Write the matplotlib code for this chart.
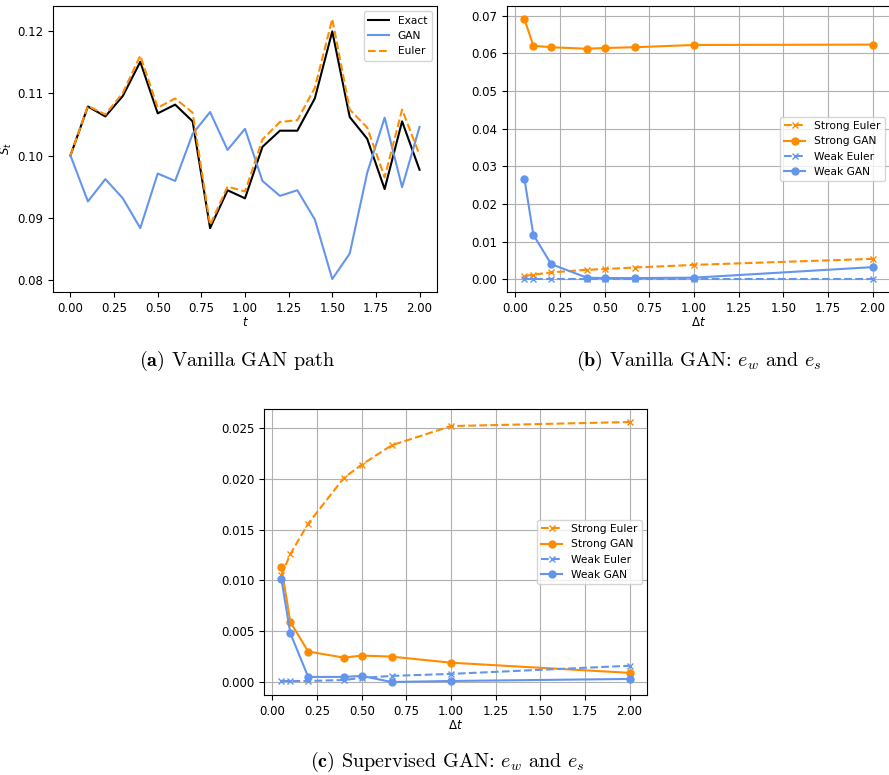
import numpy as np
import matplotlib.pyplot as plt

# Data
# (a) single sample path on t in [0, 2]
t = [0.0, 0.1, 0.2, 0.3, 0.4, 0.5, 0.6, 0.7, 0.8, 0.9, 1.0,
     1.1, 1.2, 1.3, 1.4, 1.5, 1.6, 1.7, 1.8, 1.9, 2.0]
path_exact = [0.1000, 0.1079, 0.1063, 0.1096, 0.1151, 0.1068, 0.1082, 0.1055, 0.0883, 0.0944, 0.0931,
              0.1014, 0.1040, 0.1040, 0.1092, 0.1200, 0.1062, 0.1027, 0.0946, 0.1055, 0.0977]
path_gan = [0.1000, 0.0926, 0.0962, 0.0931, 0.0883, 0.0971, 0.0959, 0.1035, 0.1070, 0.1009, 0.1043,
            0.0959, 0.0935, 0.0944, 0.0897, 0.0801, 0.0842, 0.0972, 0.1061, 0.0949, 0.1046]
path_euler = [0.1000, 0.1080, 0.1066, 0.1101, 0.1161, 0.1077, 0.1092, 0.1069, 0.0888, 0.0950, 0.0942,
              0.1026, 0.1054, 0.1057, 0.1109, 0.1220, 0.1074, 0.1045, 0.0965, 0.1074, 0.1001]

# step sizes used in the error plots
dt = [0.05, 0.1, 0.2, 0.4, 0.5, 2.0 / 3.0, 1.0, 2.0]

# (b) vanilla GAN errors
b_strong_euler = [0.0008, 0.0012, 0.0018, 0.0025, 0.0027, 0.0031, 0.0038, 0.0054]
b_strong_gan = [0.0691, 0.0620, 0.0616, 0.0612, 0.0614, 0.0616, 0.0622, 0.0623]
b_weak_euler = [0.00005, 0.00005, 0.00005, 0.00005, 0.00005, 0.00005, 0.00005, 0.00005]
b_weak_gan = [0.0267, 0.0118, 0.0040, 0.0004, 0.0003, 0.0003, 0.0004, 0.0032]

# (c) supervised GAN errors
c_strong_euler = [0.0105, 0.0126, 0.0156, 0.0201, 0.0214, 0.0233, 0.0252, 0.0256]
c_strong_gan = [0.0113, 0.0059, 0.0030, 0.0024, 0.0026, 0.0025, 0.0019, 0.0009]
c_weak_euler = [0.0001, 0.0001, 0.0001, 0.0002, 0.0004, 0.0006, 0.0008, 0.0016]
c_weak_gan = [0.0101, 0.0048, 0.0005, 0.0005, 0.0006, 0.0000, 0.0001, 0.0003]

orange = 'darkorange'
blue = 'cornflowerblue'
tick_fs = 8.5
leg_fs = 7.7

fig = plt.figure(figsize=(8.89, 7.75), dpi=100)

# (a) Vanilla GAN path
ax1 = fig.add_axes([53 / 889, 1 - 292 / 775, 384 / 889, 286 / 775])
ax1.plot(t, path_exact, color='black', label='Exact')
ax1.plot(t, path_gan, color=blue, label='GAN')
ax1.plot(t, path_euler, color=orange, linestyle='--', label='Euler')
ax1.set_xlabel('$t$', fontsize=tick_fs, labelpad=1)
ax1.set_ylabel('$S_t$', fontsize=tick_fs, labelpad=2)
ax1.set_xticks([0, 0.25, 0.5, 0.75, 1.0, 1.25, 1.5, 1.75, 2.0])
ax1.set_yticks([0.08, 0.09, 0.10, 0.11, 0.12])
ax1.tick_params(labelsize=tick_fs)
ax1.legend(loc='upper right', fontsize=leg_fs)


def error_panel(ax, se, sg, we, wg):
    ax.plot(dt, se, color=orange, linestyle='--', marker='x', markersize=5, label='Strong Euler')
    ax.plot(dt, sg, color=orange, marker='o', markersize=5, label='Strong GAN')
    ax.plot(dt, we, color=blue, linestyle='--', marker='x', markersize=5, label='Weak Euler')
    ax.plot(dt, wg, color=blue, marker='o', markersize=5, label='Weak GAN')
    ax.set_xlabel(r'$\Delta t$', fontsize=tick_fs, labelpad=1)
    ax.set_xticks([0, 0.25, 0.5, 0.75, 1.0, 1.25, 1.5, 1.75, 2.0])
    ax.tick_params(labelsize=tick_fs)
    ax.grid(True)
    ax.legend(loc='center right', fontsize=leg_fs)


# (b) Vanilla GAN: e_w and e_s
ax2 = fig.add_axes([507 / 889, 1 - 292 / 775, 383 / 889, 286 / 775])
error_panel(ax2, b_strong_euler, b_strong_gan, b_weak_euler, b_weak_gan)

# (c) Supervised GAN: e_w and e_s
ax3 = fig.add_axes([264 / 889, 1 - 695 / 775, 383 / 889, 286 / 775])
error_panel(ax3, c_strong_euler, c_strong_gan, c_weak_euler, c_weak_gan)

# Captions in Computer Modern, like the LaTeX subcaptions
cap = dict(fontsize=14.5, family='cmr10', math_fontfamily='cm', ha='center', va='baseline')
fig.text(237 / 889, 1 - 366 / 775, r'$\mathbf{(a)}$ Vanilla GAN path', **cap)
fig.text(699 / 889, 1 - 366 / 775, r'$\mathbf{(b)}$ Vanilla GAN: $e_w$ and $e_s$', **cap)
fig.text(447 / 889, 1 - 767 / 775, r'$\mathbf{(c)}$ Supervised GAN: $e_w$ and $e_s$', **cap)

plt.savefig('out.png', dpi=100)
plt.close()
